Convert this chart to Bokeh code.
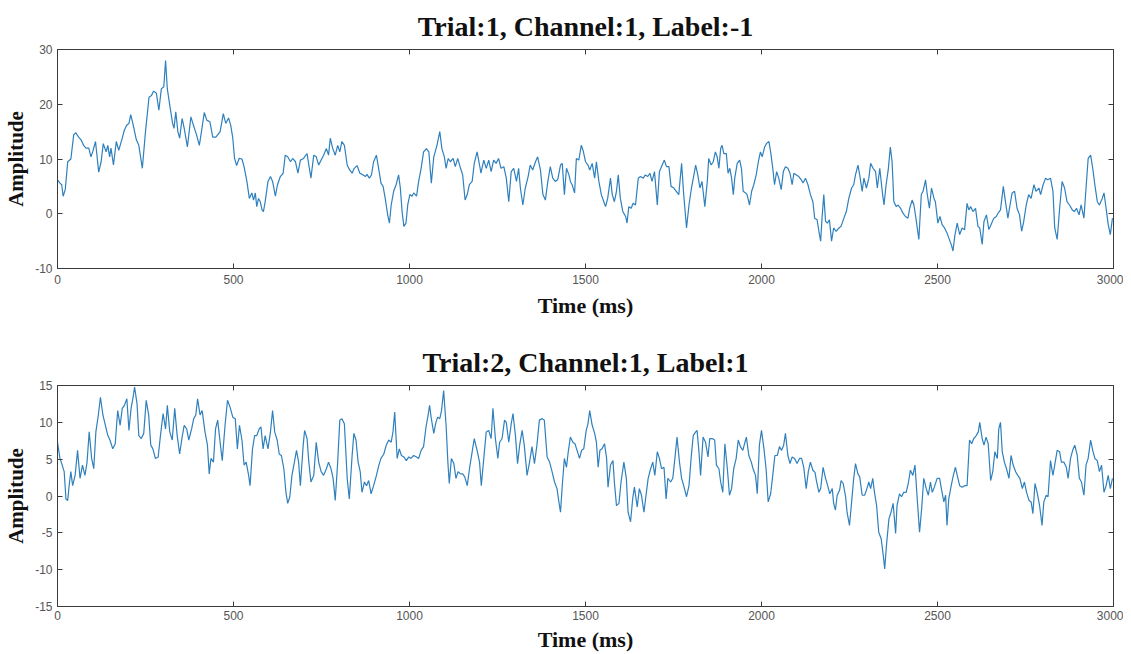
from bokeh.plotting import figure
from bokeh.layouts import column
from bokeh.models import LinearAxis, FixedTicker, Range1d
from bokeh.embed import file_html
from bokeh.resources import INLINE

# ---- data (time in ms, amplitude) ----
trial1 = [(0,6.2),(7,5.6),(12,5.3),(16,3.2),(22,4.4),(29,9.5),(38,10),(46,14.4),(52,14.8),(60,14),(67,13.5),(74,12.5),(81,12),(89,12),(95,10.4),(100,11.3),(108,13.2),(117,7.6),(124,9.5),(130,12.8),(138,11.3),(143,12.5),(148,10.4),(152,12),(159,8.9),(167,13.2),(174,11.6),(184,13.8),(190,15.3),(197,16.2),(203,16.5),(208,18.1),(214,16.5),(224,13.5),(231,12.5),(241,8.3),(250,15),(260,21.3),(267,21.6),(273,22.4),(281,22),(288,18.9),(295,22.8),(302,23.2),(307,28),(312,22.8),(319,19.8),(327,16.5),(331,15.6),(336,18.6),(342,15),(347,13.8),(354,17.4),(360,15.6),(369,12.2),(379,17.7),(386,16.2),(395,14.4),(403,12.5),(409,15),(417,18.5),(424,17.1),(433,16.8),(441,14),(450,14),(462,15),(471,18.3),(478,16.5),(486,17.5),(492,16.2),(498,13.8),(503,10.1),(509,8.8),(516,10.1),(524,10),(530,8.6),(538,5.9),(545,2.8),(552,3.8),(557,2.5),(562,3.8),(566,1.3),(571,2.8),(576,2.2),(581,0.7),(585,0.4),(590,2.2),(598,5.9),(605,6.8),(611,5.9),(619,3.2),(625,5.3),(633,6.8),(641,7.4),(647,10.7),(654,10.4),(662,9.5),(668,10.1),(676,9.5),(683,7.4),
(690,9.8),(699,10.1),(709,11),(714,8.9),(720,6.5),(728,10.7),(735,10.4),(742,8.9),(749,9.8),(756,10.7),(764,11.9),(770,10.7),(775,13.8),(782,11.9),(789,10.7),(796,12.5),(802,11.3),(808,13.2),(815,12.5),(823,8.9),(830,8),(837,7.4),(843,8.3),(851,8.8),(859,7.4),(868,7.1),(875,6.8),(879,7.2),(886,6.5),(892,7.1),(898,9.5),(906,10.7),(913,8),(919,5.6),(925,5),(931,2.8),(938,-0.2),(943,-1.7),(948,1.6),(955,4.1),(962,5.3),(969,7.1),(974,4.7),(979,0.4),(984,-2.3),(990,-1.7),(995,1.6),(1001,3.5),(1007,3.2),(1012,3.8),(1020,3.2),(1026,5.9),(1033,8.3),(1040,11.3),(1048,11.9),(1055,11.3),(1062,5.6),(1069,10.4),(1078,12.5),(1086,15),(1092,11.9),(1099,10.4),(1104,8.3),(1110,10.1),(1116,9.5),(1124,10.1),(1130,8.6),(1137,10.1),(1145,8.3),(1151,7.1),(1158,2.5),(1164,3.5),(1170,5.3),(1178,5.9),(1184,9.2),(1192,11.3),(1199,8.9),(1203,7.4),(1211,9.8),(1218,8.3),(1225,9.8),(1232,7.7),(1239,9.8),(1246,9.2),(1253,10.1),(1260,8.3),(1268,8.6),(1275,6.5),(1282,2.2),(1289,7.7),(1296,8.3),(1304,5.9),(1310,8.3),(1315,4.7),(1322,1.6),(1329,4.7),(1337,6.8),(1343,8.9),(1350,8),(1358,9.5),(1364,10.4),(1372,8),(1379,3.5),(1386,2.5),(1393,5.9),(1400,8.6),(1407,6.5),(1414,5.9),(1421,6.2),
(1429,8.9),(1434,9.2),(1440,3.5),(1446,8.3),(1453,7.1),(1457,5.9),(1462,5.3),(1469,3.8),(1474,10.1),(1481,9.8),(1488,12.5),(1493,11.6),(1500,9.5),(1507,8.9),(1512,8),(1519,9.2),(1526,6.5),(1531,9.5),(1538,5.9),(1545,3.5),(1552,2.2),(1557,1.3),(1563,2.8),(1571,6.5),(1576,3.5),(1582,2.2),(1588,4.1),(1593,7.1),(1599,2.8),(1606,0.4),(1614,-0.5),(1618,-1.7),(1623,1.3),(1630,1),(1635,1.9),(1642,1.6),(1650,6.5),(1656,6.8),(1664,6.5),(1670,7.1),(1677,6.8),(1683,7.4),(1689,5.9),(1696,7.7),(1704,1.6),(1710,7.7),(1718,8.9),(1724,9.8),(1730,8.6),(1737,8.6),(1743,5),(1751,4.7),(1758,4.1),(1765,3.5),(1773,9.2),(1779,3.5),(1787,-2.6),(1794,1.6),(1801,4.7),(1808,7.1),(1813,8.9),(1819,7.1),(1825,4.7),(1831,5.9),(1839,1.3),(1846,5.9),(1850,10.1),(1857,8.9),(1863,9.5),(1869,11.3),(1874,10.4),(1879,8.3),(1884,11.9),(1888,12.5),(1893,11),(1900,11),(1905,7.4),(1910,8.3),(1915,6.5),(1920,3.5),(1924,6.5),(1931,9.2),(1938,9.8),(1943,8.3),(1948,4.1),(1955,3.8),(1959,3.5),(1966,1.6),(1972,4.1),(1978,5.3),(1985,7.1),(1991,9.5),(1997,11.3),(2002,10.4),(2009,12.2),(2014,12.8),(2021,13.2),(2026,11.3),(2032,8.3),(2037,5.3),(2043,7.7),(2049,6.5),(2056,4.4),(2062,7.7),(2068,8.6),(2075,8.3),(2081,7.4),(2087,5.3),(2092,7.4),(2099,7.1),(2106,6.8),(2113,6.2),(2118,5.6),(2125,6.5),(2132,5.3),(2139,3.5),(2146,2.2),(2151,-0.8),(2158,-1.1),(2163,-3.2),
(2168,-5),(2172,-0.8),(2177,3.5),(2182,-1.4),(2187,-1.7),(2193,-1.1),(2199,-5),(2205,-2.6),(2212,-3.2),(2220,-2.6),(2226,-2.3),(2234,-0.8),(2241,0.4),(2248,2.8),(2256,4.7),(2262,5.3),(2267,7.1),(2274,8.9),(2279,7.1),(2286,4.1),(2291,6.5),(2298,4.7),(2305,6.5),(2310,9.2),(2317,8.3),(2324,7.7),(2329,4.7),(2336,8.3),(2343,4.1),(2348,1.6),(2354,5.3),(2360,8),(2366,12.2),(2371,9.5),(2376,2.2),(2383,1.3),(2388,1.6),(2395,1),(2402,0.1),(2409,-0.5),(2416,-0.8),(2421,1),(2428,2.5),(2433,1.6),(2440,-1.4),(2447,-4.7),(2454,3.5),(2459,4.1),(2466,6.2),(2471,3.5),(2477,1),(2483,4.7),(2490,2.8),(2494,2.2),(2501,-1.7),(2507,-0.5),(2513,-2),(2520,-2.6),(2527,-3.5),(2532,-4.4),(2539,-5.6),(2544,-6.8),(2549,-4.1),(2556,-1.7),(2563,-3.8),(2570,-2.6),(2577,-2.9),(2584,1.9),(2589,0.7),(2594,1.3),(2601,0.4),(2608,1),(2615,-2.3),(2620,-2.6),(2627,-5.6),(2632,-1.4),(2639,-0.2),(2646,-2.9),(2652,-2),(2660,-0.8),(2667,-0.5),(2672,0.1),(2679,0.7),(2687,5),(2693,2.2),(2700,-0.8),(2706,1.6),(2712,3.8),(2719,4.1),(2726,1),(2733,-0.2),(2739,-3.2),(2745,-1.4),(2752,1.6),(2759,3.5),(2766,2.8),(2774,5.3),(2780,4.1),(2788,4.7),(2793,3.5),(2800,5.3),(2807,6.5),(2813,6.2),(2821,6.5),(2828,4.1),(2833,-2.6),(2840,-4.7),(2847,1),(2854,5.9),(2861,4.7),(2868,2.2),(2875,1.6),(2883,0.7),(2889,0.4),(2895,1),(2902,-0.2),(2908,1.6),(2916,-0.8),(2922,4.7),(2928,10.1),(2935,10.7),(2941,8.3),(2947,5.3),(2954,2.2),(2960,1.6),(2968,2.8),(2973,3.8),(2979,1),(2985,-2),(2991,-3.8),(2997,-0.8)]

trial2 = [(0,7.3),(7,5.1),(12,4.4),(19,3.3),(24,-0.4),(29,-0.6),(33,1.4),(38,3.3),(43,1.4),(50,2.8),(57,6.2),(64,2.4),(71,4.2),(78,2.8),(84,4.6),(90,8.7),(97,5.1),(103,3.7),(109,8.7),(116,11),(122,13.4),(129,11),(136,9.6),(143,8.2),(149,7.6),(157,6.4),(164,7.1),(171,11.6),(178,9.6),(184,11.9),(190,12.3),(197,13.2),(203,8.9),(209,11.9),(214,13.2),(219,14.8),(226,12.5),(231,8.2),(238,7.8),(245,8.5),(252,13),(259,11),(265,6.9),(271,6.4),(278,5.1),(286,5.3),(292,8),(300,11.2),(307,9.1),(312,12.3),(319,8.7),(326,7.6),(333,11.9),(340,8.2),(347,5.7),(354,8),(360,9.6),(367,9.1),(373,7.6),(381,9.1),(387,10.5),(393,11),(398,13.2),(405,11),(411,11.6),(419,8.7),(426,6.9),(431,3),(436,5.1),(443,4.6),(449,9.1),(455,10.3),(462,7.3),(468,4.8),(476,9.6),(483,13),(490,12.1),(498,10.7),(505,10.5),(511,6.4),(517,9.6),(524,7.6),(530,4.2),(536,4.6),(543,2.8),(547,1.4),(554,6.4),(560,8.2),(566,8.2),(573,9.1),(578,9.4),(584,6.4),(590,8.2),(598,6.4),(605,8.7),(611,11.6),(617,8.7),(624,7.6),(630,5.7),(636,5.5),(643,3.7),(649,0.5),(654,-1),(660,-0.1),(666,2.8),(673,4.6),(679,6.2),(685,4.6),
(690,1.4),(698,6.9),(702,8.9),(709,7.8),(714,4.6),(720,1.9),(728,2.8),(735,7.3),(742,4.6),(749,3.3),(756,2.8),(764,3.7),(770,4.6),(777,3.7),(783,2.4),(789,-0.6),(796,4.6),(802,10.3),(808,10.5),(815,9.8),(823,2.4),(829,-0.4),(837,5.5),(842,8.5),(848,7.6),(854,4.6),(860,3.3),(865,0.5),(872,1.9),(878,1.4),(884,2.1),(891,0.3),(898,1.4),(905,2.6),(913,4.2),(919,5.1),(927,5.7),(934,6.9),(941,7.6),(948,7.3),(953,8.7),(958,11.4),(965,5.1),(971,6.4),(977,5.5),(984,5.3),(991,4.8),(998,5.3),(1004,5.1),(1012,5.5),(1020,5.3),(1026,5.1),(1033,6.2),(1040,6.7),(1047,9.4),(1053,11),(1057,12.3),(1062,10.5),(1069,8.5),(1075,10),(1080,10.7),(1086,10.5),(1091,11.6),(1097,14.3),(1104,9.6),(1109,4.6),(1113,1.7),(1119,5.1),(1126,4.4),(1132,2.4),(1138,3.3),(1145,3),(1151,3),(1157,2.6),(1164,1.4),(1171,3.9),(1178,6),(1184,7.8),(1192,6.2),(1199,4.6),(1204,1.4),(1211,5.1),(1218,8.7),(1225,8.9),(1232,7.8),(1237,11.9),(1244,7.8),(1251,5.1),(1256,7.3),(1263,7.8),(1270,10.3),(1275,10),(1282,7.3),(1289,9.8),(1294,11.2),(1301,8.2),(1307,4.4),(1313,6.9),(1320,8.9),(1326,6.9),(1334,2.8),(1341,4.6),(1348,6.7),(1355,4.4),(1362,6.9),(1369,10.3),(1377,10.5),(1383,10.3),(1391,5.3),(1398,4.6),(1405,3.3),(1412,1.9),(1419,1),(1426,-1.3),
(1429,-2.2),(1434,1.4),(1440,5.1),(1446,3.9),(1451,6),(1457,8),(1464,7.3),(1470,7.1),(1476,6.2),(1483,5.1),(1489,6.2),(1495,6.4),(1502,8.9),(1507,9.8),(1512,11.6),(1519,9.6),(1526,8.5),(1531,7.3),(1536,3.9),(1541,6.2),(1547,6.4),(1554,7.1),(1560,5.1),(1564,1.2),(1571,4.2),(1578,4.8),(1582,1.9),(1588,-1.3),(1595,-1),(1601,1.9),(1609,4.6),(1616,2.4),(1621,-2.2),(1628,-3.5),(1634,-0.4),(1639,1.2),(1647,-1.5),(1653,1),(1659,0.1),(1666,-2.2),(1672,0.1),(1678,2.4),(1685,3.7),(1691,4.6),(1697,2.8),(1704,6),(1710,5.1),(1716,3.7),(1723,3.9),(1729,-0.4),(1734,2.4),(1742,1.9),(1748,2.4),(1754,5.1),(1760,8),(1767,4.6),(1773,2.4),(1779,1.4),(1787,-0.1),(1794,1.4),(1800,5.1),(1806,8.2),(1813,8.7),(1817,8.9),(1822,6.2),(1827,2.8),(1834,8),(1841,7.3),(1848,5.3),(1853,7.8),(1860,7.8),(1867,7.6),(1872,4.2),(1879,3.7),(1884,1.9),(1890,0.5),(1896,7.1),(1903,3.7),(1909,0.1),(1915,1),(1921,3.7),(1928,5.1),(1934,7.6),(1940,6.7),(1947,6.2),(1953,7.3),(1957,8),(1964,5.5),(1971,4.6),(1976,3.7),(1983,2.8),(1988,0.3),(1994,6.9),(2000,8.9),(2007,6.4),(2013,3.7),(2019,-0.8),(2026,0.3),(2032,2.8),(2038,5.5),(2045,5.5),(2051,6.7),(2057,6.2),(2063,6.9),(2068,8.5),(2075,5.5),(2081,4.4),(2087,5.3),(2094,5.1),(2101,4.4),(2108,5.1),(2114,5.1),(2120,3.9),(2127,1),(2133,3.3),(2139,4.6),(2146,3.5),(2152,3.2),(2156,2.1),(2163,0.5),
(2168,1),(2175,3.9),(2182,2.4),(2188,1.4),(2194,0.3),(2201,1),(2205,-1),(2210,-1.9),(2215,0.1),(2222,0.8),(2226,2.1),(2232,1.7),(2239,-0.1),(2243,-2.2),(2250,-4),(2256,-0.8),(2262,2.4),(2267,4.4),(2274,3),(2279,2.6),(2286,0.1),(2293,0.1),(2298,0.8),(2305,1.9),(2310,1),(2316,2.4),(2321,0.5),(2327,-1.3),(2333,-4.9),(2340,-5.8),(2346,-8.1),(2350,-9.9),(2355,-6.7),(2362,-3.1),(2368,-2.2),(2374,-1),(2381,-5.1),(2385,-1.3),(2392,0.3),(2398,-0.1),(2404,0.5),(2411,0.5),(2417,1.7),(2423,3.5),(2430,2.8),(2436,4.2),(2442,-0.1),(2449,-4.9),(2455,-1.7),(2461,2.4),(2468,1),(2474,0.1),(2480,1.9),(2485,0.5),(2491,1.2),(2499,2.4),(2506,2.4),(2511,1),(2518,-0.8),(2523,0.1),(2527,-4),(2532,-0.4),(2539,1.4),(2545,2.8),(2551,3.9),(2558,2.4),(2563,1.4),(2570,1.2),(2577,1.4),(2584,1.4),(2591,7.6),(2597,7.1),(2603,7.8),(2610,8.2),(2616,8.7),(2620,10),(2627,7.8),(2632,6.9),(2638,8),(2644,7.1),(2651,2.1),(2657,3.3),(2663,6),(2670,5.1),(2674,9.1),(2679,10),(2684,6),(2690,4.6),(2696,3.7),(2703,2.4),(2709,5.5),(2715,4.2),(2722,3.3),(2728,2.8),(2734,2.4),(2741,1),(2747,1.9),(2753,0.5),(2760,-0.6),(2766,-0.8),(2771,-2.4),(2777,1.7),(2783,0.5),(2790,-1.3),(2797,-4),(2802,-0.8),(2809,0.1),(2814,-0.1),(2821,4.8),(2828,2.8),(2833,4.2),(2840,6.2),(2847,6),(2852,4.6),(2859,4.6),(2866,3.9),(2871,2.4),(2878,5.1),(2884,6.2),(2890,6.9),(2897,5.5),(2903,2.4),(2909,1.9),(2916,0.1),(2922,4.2),(2928,5.1),(2935,7.6),(2941,6.2),(2947,5.1),(2954,4.8),(2960,3.3),(2966,4.2),(2973,0.5),(2979,1.4),(2985,2.8),(2991,1),(2997,2.4)]

titles = ["Trial:1, Channel:1, Label:-1", "Trial:2, Channel:1, Label:1"]
x_label = "Time (ms)"
y_label = "Amplitude"
x_ticks = [0, 500, 1000, 1500, 2000, 2500, 3000]
y_ticks1 = [-10, 0, 10, 20, 30]
y_ticks2 = [-15, -10, -5, 0, 5, 10, 15]
y_range1 = (-10, 30)
y_range2 = (-15, 15)

LINE = "#2f80bd"
AX = "#3a3a3a"
TICKLAB = "#555555"


def style_axis(ax, ticks, show_labels, standoff=6):
    ax.ticker = FixedTicker(ticks=ticks)
    ax.major_label_overrides = {t: str(t) for t in ticks}
    ax.major_tick_in = 5
    ax.major_tick_out = 0
    ax.minor_tick_in = 0
    ax.minor_tick_out = 0
    ax.axis_line_color = AX
    ax.major_tick_line_color = AX
    ax.major_label_text_font = "Liberation Sans"
    ax.major_label_text_font_size = "12px"
    ax.major_label_text_color = TICKLAB
    ax.major_label_standoff = standoff
    if not show_labels:
        ax.major_label_text_font_size = "0px"
        ax.major_label_text_alpha = 0
        ax.major_label_standoff = 0


def make(data, title, yticks, yr, height, top, bottom, xl_standoff, lab_standoff):
    ts = [d[0] for d in data]
    vs = [d[1] for d in data]
    p = figure(width=1123, height=height, output_backend="svg", toolbar_location=None,
               x_range=Range1d(0, 3000), y_range=Range1d(*yr),
               min_border_left=57, min_border_right=10,
               min_border_top=top, min_border_bottom=bottom,
               x_axis_label=x_label, y_axis_label=y_label)
    p.line(ts, vs, line_color=LINE, line_width=1.2)
    p.xgrid.visible = False
    p.ygrid.visible = False
    p.outline_line_color = AX
    p.background_fill_color = "white"
    p.border_fill_color = "white"

    p.title.text = title
    p.title.align = "center"
    p.title.text_font = "Liberation Serif"
    p.title.text_font_style = "bold"
    p.title.text_font_size = "28px"
    p.title.text_color = "#111111"
    p.title.standoff = 16

    xa = p.xaxis[0]
    style_axis(xa, x_ticks, True, lab_standoff)
    xa.axis_label_text_font = "Liberation Serif"
    xa.axis_label_text_font_style = "bold"
    xa.axis_label_text_font_size = "22px"
    xa.axis_label_text_color = "#111111"
    xa.axis_label_standoff = xl_standoff

    ya = p.yaxis[0]
    style_axis(ya, yticks, True, 5)
    ya.axis_label_text_font = "Liberation Serif"
    ya.axis_label_text_font_style = "bold"
    ya.axis_label_text_font_size = "21px"
    ya.axis_label_text_color = "#111111"
    ya.axis_label_standoff = 4

    top_ax = LinearAxis()
    style_axis(top_ax, x_ticks, False)
    p.add_layout(top_ax, "above")
    right_ax = LinearAxis()
    style_axis(right_ax, yticks, False)
    p.add_layout(right_ax, "right")
    return p


p1 = make(trial1, titles[0], y_ticks1, y_range1, 326, 47, 58, 6, 6)
p2 = make(trial2, titles[1], y_ticks2, y_range2, 328, 59, 48, 4, 4)

layout = column(p1, p2, spacing=0)
open("out.html", "w").write(file_html(layout, INLINE))
